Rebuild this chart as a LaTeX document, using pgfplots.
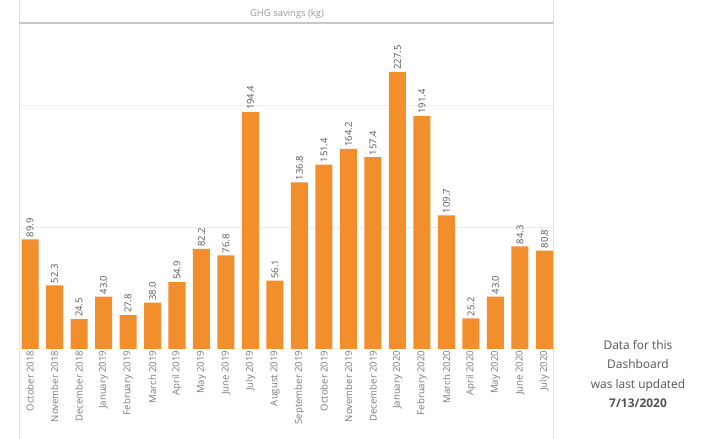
\documentclass[border=0pt]{standalone}
\usepackage{pgfplots}
\pgfplotsset{compat=1.18}
\usepackage{pgfplotstable}
\usepackage{fontspec}
\setmainfont{Open Sans}
\definecolor{barorange}{HTML}{F28E2B}
\definecolor{labgray}{HTML}{7A7A7A}
\definecolor{valgray}{HTML}{555555}
\definecolor{hdrgray}{HTML}{9A9A9A}
\pgfplotstableread{
i v
0 89.9
1 52.3
2 24.5
3 43.0
4 27.8
5 38.0
6 54.9
7 82.2
8 76.8
9 194.4
10 56.1
11 136.8
12 151.4
13 164.2
14 157.4
15 227.5
16 191.4
17 109.7
18 25.2
19 43.0
20 84.3
21 80.8
}\ghg
\begin{document}
\begin{tikzpicture}[x=1bp,y=1bp]
\path[use as bounding box] (0,0) rectangle (715,439);
\draw[black!12, line width=1bp] (19,0) -- (19,439);
\draw[black!12, line width=1bp] (553,0) -- (553,439);
\draw[black!22, line width=1.5bp] (19,416) -- (553,416);
\node[text=hdrgray, font=\fontsize{9.5}{11}\selectfont] at (287,425) {GHG savings (kg)};
\begin{axis}[
  at={(19bp,90bp)}, anchor=south west,
  scale only axis, width=534bp, height=326bp,
  xmin=-0.45, xmax=21.35, ymin=0, ymax=267.6,
  axis line style={draw=none},
  ytick={100,200}, yticklabels={}, ymajorgrids, grid style={black!7, line width=0.8bp},
  major tick length=0,
  xtick=data,
  xticklabels={October 2018,November 2018,December 2018,January 2019,February 2019,March 2019,April 2019,May 2019,June 2019,July 2019,August 2019,September 2019,October 2019,November 2019,December 2019,January 2020,February 2020,March 2020,April 2020,May 2020,June 2020,July 2020},
  xticklabel style={rotate=90, anchor=east, inner sep=1.5bp, text=labgray, font=\fontsize{9.6}{10}\selectfont},
  /pgf/number format/assume math mode=true,
  ybar, bar width=17bp,
  nodes near coords={\pgfmathprintnumber[fixed,fixed zerofill,precision=1]{\pgfplotspointmeta}},
  nodes near coords style={rotate=90, anchor=west, inner sep=2bp, text=valgray, font=\fontsize{9.5}{10}\selectfont},
  clip=false,
]
\addplot[fill=barorange, draw=none] table[x=i,y=v] {\ghg};
\end{axis}
\node[align=center, text=valgray, font=\fontsize{12}{19.5}\selectfont] at (638,65) {Data for this\\Dashboard\\was last updated\\\textbf{7/13/2020}};
\end{tikzpicture}
\end{document}
